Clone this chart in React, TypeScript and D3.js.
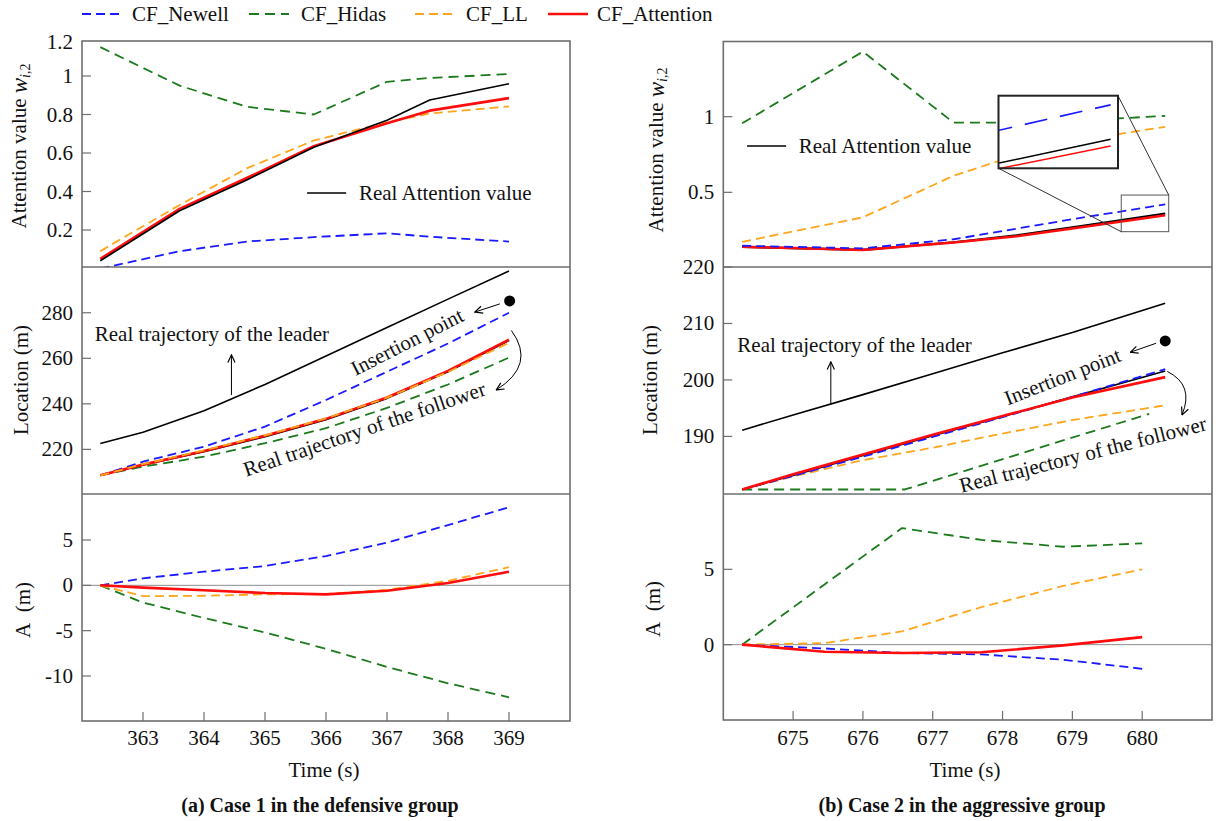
import * as d3 from "d3";

const FONT = "'Liberation Serif', 'Times New Roman', Times, serif";
const FS = 21;
const FRAME = "#6e6e6e";
const BLUE = "#1a1aff";
const GREEN = "#1b7a1b";
const ORANGE = "#ffa51c";
const RED = "#ff0d0d";

const seriesNames = ["CF_Newell", "CF_Hidas", "CF_LL", "CF_Attention"];

// ---------- (a) Case 1 in the defensive group ----------
const c1TicksX = [363, 364, 365, 366, 367, 368, 369];

const c1AttnTime = [362.3, 363.6, 364.7, 365.8, 367.0, 367.7, 369.0];
const c1AttnReal = [0.04, 0.3, 0.46, 0.63, 0.77, 0.875, 0.96];
const c1AttnAttention = [0.05, 0.31, 0.47, 0.635, 0.755, 0.82, 0.885];
const c1AttnLL = [0.09, 0.33, 0.52, 0.665, 0.76, 0.805, 0.842];
const c1AttnNewell = [0.0, 0.09, 0.14, 0.163, 0.183, 0.165, 0.14];
const c1AttnHidas = [1.15, 0.95, 0.84, 0.8, 0.97, 0.99, 1.01];

const c1Time = [362.3, 363, 364, 365, 366, 367, 368, 369];
const c1Leader = [222.6, 227.5, 237.0, 248.5, 261.0, 273.5, 286.0, 298.3];
const c1Follower = [208.6, 213.1, 219.0, 225.6, 233.0, 242.4, 254.1, 267.8];
const c1LocAttention = [208.6, 213.3, 219.3, 226.0, 233.4, 242.8, 254.5, 268.2];
const c1LocLL = [208.6, 213.5, 219.6, 226.2, 233.6, 242.7, 254.0, 266.8];
const c1LocNewell = [208.6, 214.6, 221.2, 230.0, 241.7, 254.1, 266.5, 280.0];
const c1LocHidas = [208.6, 212.4, 216.8, 222.7, 229.3, 238.2, 248.5, 260.3];

const c1ANewell = [0, 0.77, 1.5, 2.13, 3.23, 4.7, 6.65, 8.6];
const c1AHidas = [0, -1.9, -3.6, -5.2, -7.0, -9.0, -10.8, -12.35];
const c1ALL = [0, -1.2, -1.15, -1.0, -0.95, -0.5, 0.5, 2.0];
const c1AAttention = [0, -0.25, -0.55, -0.85, -1.0, -0.6, 0.25, 1.5];

// ---------- (b) Case 2 in the aggressive group ----------
const c2TicksX = [675, 676, 677, 678, 679, 680];

const c2AttnTime = [674.27, 676.0, 677.3, 678.2, 679.1, 680.33];
const c2AttnReal = [0.14, 0.12, 0.17, 0.215, 0.275, 0.36];
const c2AttnAttention = [0.14, 0.12, 0.168, 0.21, 0.268, 0.348];
const c2AttnNewell = [0.147, 0.13, 0.19, 0.26, 0.33, 0.42];
const c2AttnLL = [0.173, 0.335, 0.61, 0.745, 0.845, 0.933];
const c2AttnHidas = [0.956, 1.43, 0.96, 0.96, 0.975, 1.005];

const c2Time = [674.27, 675, 676, 677, 678, 679, 680.33];
const c2Leader = [191.1, 193.8, 197.4, 201.1, 204.8, 208.4, 213.6];
const c2Follower = [180.6, 183.1, 186.6, 190.1, 193.5, 197.0, 201.6];
const c2LocAttention = [180.6, 183.3, 186.8, 190.3, 193.6, 196.9, 200.5];
const c2LocNewell = [180.6, 183.0, 186.4, 189.9, 193.4, 197.0, 201.9];
const c2LocLL = [180.6, 182.9, 185.8, 188.0, 190.5, 192.9, 195.5];
const c2HidasTime = [674.27, 676.6, 680.1];
const c2LocHidas = [180.6, 180.6, 194.0];

const c2ATime = [674.27, 675.45, 676.56, 677.7, 678.87, 680.0];
const c2AHidas = [0, 4.0, 7.74, 6.95, 6.5, 6.72];
const c2ALL = [0, 0.1, 0.88, 2.5, 3.9, 5.0];
const c2AAttention = [0, -0.47, -0.55, -0.5, -0.05, 0.5];
const c2ANewell = [0, -0.25, -0.55, -0.65, -1.0, -1.6];

// zoomed window of the inset (time, attention value)
const insetSrcT = [679.7, 680.38];
const insetSrcV = [0.24, 0.482];
const insetViewT = [679.72, 680.37];
const insetViewV = [0.309, 0.436];

type Scale = d3.ScaleLinear<number, number>;
type Line = { t: number[]; v: number[]; color: string; width: number; dash?: string };

const sNewell = { color: BLUE, width: 1.8, dash: "9,5" };
const sHidas = { color: GREEN, width: 1.8, dash: "10,6" };
const sLL = { color: ORANGE, width: 1.8, dash: "9,5" };
const sAttn = { color: RED, width: 2.6 };
const sReal = { color: "#000", width: 1.6 };

const linePath = (x: Scale, y: Scale, t: number[], v: number[]) =>
  d3
    .line<number>()
    .x((_, i) => x(t[i]))
    .y((d) => y(d))(v) ?? "";

function Lines({ id, x, y, x0, x1, y0, y1, lines }: {
  id: string; x: Scale; y: Scale; x0: number; x1: number; y0: number; y1: number; lines: Line[];
}) {
  return (
    <g>
      <clipPath id={id}>
        <rect x={x0} y={y0} width={x1 - x0} height={y1 - y0} />
      </clipPath>
      <g clipPath={`url(#${id})`}>
        {lines.map((l, i) => (
          <path key={i} d={linePath(x, y, l.t, l.v)} fill="none" stroke={l.color}
            strokeWidth={l.width} strokeDasharray={l.dash} strokeLinejoin="round" />
        ))}
      </g>
    </g>
  );
}

function YTicks({ y, left, top, bottom, ticks }: { y: Scale; left: number; top: number; bottom: number; ticks: number[] }) {
  return (
    <g>
      {ticks.map((tk) => {
        const py = y(tk);
        const inside = py > top + 0.5 && py < bottom - 0.5;
        return (
          <g key={tk}>
            {inside && <line x1={left} x2={left + 9} y1={py} y2={py} stroke={FRAME} strokeWidth={1.2} />}
            <text x={left - 9} y={Math.max(py, top + 1)} textAnchor="end" dominantBaseline="central" fontSize={FS}>
              {String(tk)}
            </text>
          </g>
        );
      })}
    </g>
  );
}

function XTicks({ x, bottom, ticks }: { x: Scale; bottom: number; ticks: number[] }) {
  return (
    <g>
      {ticks.map((tk) => (
        <g key={tk}>
          <line x1={x(tk)} x2={x(tk)} y1={bottom} y2={bottom - 9} stroke={FRAME} strokeWidth={1.2} />
          <text x={x(tk)} y={738} textAnchor="middle" dominantBaseline="central" fontSize={FS}>{tk}</text>
        </g>
      ))}
    </g>
  );
}

function Frame({ left, right, top, mid1, mid2, bottom }: { left: number; right: number; top: number; mid1: number; mid2: number; bottom: number }) {
  return (
    <g fill="none" stroke={FRAME} strokeWidth={1.6}>
      <rect x={left} y={top} width={right - left} height={bottom - top} />
      <line x1={left} x2={right} y1={mid1} y2={mid1} />
      <line x1={left} x2={right} y1={mid2} y2={mid2} />
    </g>
  );
}

function AttnTitle({ cx, cy }: { cx: number; cy: number }) {
  return (
    <text transform={`translate(${cx},${cy}) rotate(-90)`} textAnchor="middle" dominantBaseline="central" fontSize={FS}>
      Attention value{" "}
      <tspan fontStyle="italic" fontSize={23}>w</tspan>
      <tspan dy={6} fontSize={14} fontStyle="italic">i</tspan>
      <tspan fontSize={14}>,2</tspan>
    </text>
  );
}

function VTitle({ cx, cy, label }: { cx: number; cy: number; label: string }) {
  return (
    <text transform={`translate(${cx},${cy}) rotate(-90)`} textAnchor="middle" dominantBaseline="central"
      fontSize={FS} style={{ whiteSpace: "pre" }}>
      {label}
    </text>
  );
}

function RotText({ cx, cy, angle, label }: { cx: number; cy: number; angle: number; label: string }) {
  return (
    <text transform={`translate(${cx},${cy}) rotate(${-angle})`} textAnchor="middle" dominantBaseline="central" fontSize={FS}>
      {label}
    </text>
  );
}

export default function App() {
  // column (a)
  const L = { left: 82, right: 570, top: 41, mid1: 267, mid2: 494, bottom: 721 };
  const xa = d3.scaleLinear().domain([362, 370]).range([L.left, L.right]);
  const ya1 = d3.scaleLinear().domain([0, 1.2]).range([268.5, 37.5]);
  const ya2 = d3.scaleLinear().domain([200.4, 300.1]).range([L.mid2, L.mid1]);
  const ya3 = d3.scaleLinear().domain([-14.96, 10.07]).range([L.bottom, L.mid2]);

  // column (b)
  const R = { left: 723.3, right: 1212, top: 41.5, mid1: 267, mid2: 494, bottom: 720 };
  const xb = d3.scaleLinear().domain([674, 681]).range([R.left, R.right]);
  const yb1 = d3.scaleLinear().domain([0, 1.5]).range([268, 41]);
  const yb2 = d3.scaleLinear().domain([179.8, 220]).range([R.mid2, R.mid1]);
  const yb3 = d3.scaleLinear().domain([-5, 10]).range([R.bottom, R.mid2]);

  // inset geometry
  const inset = { x0: 998.5, x1: 1118, y0: 95.7, y1: 168.3 };
  const xi = d3.scaleLinear().domain(insetViewT).range([inset.x0, inset.x1]);
  const yi = d3.scaleLinear().domain(insetViewV).range([inset.y1, inset.y0]);
  const src = { x0: xb(insetSrcT[0]), x1: xb(insetSrcT[1]), y0: yb1(insetSrcV[1]), y1: yb1(insetSrcV[0]) };

  const legendItems = [
    { ...sNewell, x: 82, tx: 132 },
    { ...sHidas, x: 249, tx: 301 },
    { ...sLL, x: 415, tx: 466 },
    { ...sAttn, x: 548, tx: 597 },
  ];

  return (
    <svg width={1220} height={821} style={{ position: "absolute", left: 0, top: 0, background: "#fff" }}
      fontFamily={FONT} fill="#111">
      <defs>
        <marker id="ah" viewBox="0 0 10 10" refX="9.5" refY="5" markerWidth={9} markerHeight={9}
          markerUnits="userSpaceOnUse" orient="auto">
          <path d="M1,1 L9.5,5 L1,9" fill="none" stroke="#000" strokeWidth={1.3} />
        </marker>
      </defs>

      {/* legend */}
      {legendItems.map((it, i) => (
        <g key={i}>
          <line x1={it.x} x2={it.x + 40} y1={14} y2={14} stroke={it.color} strokeWidth={it.width}
            strokeDasharray={it.dash} />
          <text x={it.tx} y={14} dominantBaseline="central" fontSize={FS}>{seriesNames[i]}</text>
        </g>
      ))}

      {/* ===== (a) ===== */}
      <Lines id="a1" x={xa} y={ya1} x0={L.left} x1={L.right} y0={L.top} y1={L.mid1} lines={[
        { t: c1AttnTime, v: c1AttnHidas, ...sHidas },
        { t: c1AttnTime, v: c1AttnNewell, ...sNewell },
        { t: c1AttnTime, v: c1AttnLL, ...sLL },
        { t: c1AttnTime, v: c1AttnAttention, ...sAttn },
        { t: c1AttnTime, v: c1AttnReal, ...sReal },
      ]} />
      <line x1={xa(365.69)} x2={xa(366.33)} y1={ya1(0.392)} y2={ya1(0.392)} stroke="#000" strokeWidth={1.6} />
      <text x={xa(366.54)} y={ya1(0.392)} dominantBaseline="central" fontSize={FS}>Real Attention value</text>

      <Lines id="a2" x={xa} y={ya2} x0={L.left} x1={L.right} y0={L.mid1} y1={L.mid2} lines={[
        { t: c1Time, v: c1Leader, ...sReal },
        { t: c1Time, v: c1LocHidas, ...sHidas },
        { t: c1Time, v: c1LocNewell, ...sNewell },
        { t: c1Time, v: c1Follower, ...sReal },
        { t: c1Time, v: c1LocAttention, ...sAttn },
        { t: c1Time, v: c1LocLL, ...sLL },
      ]} />
      <text x={xa(364.13)} y={ya2(270.7)} textAnchor="middle" dominantBaseline="central" fontSize={FS}>
        Real trajectory of the leader
      </text>
      <line x1={xa(364.45)} x2={xa(364.45)} y1={ya2(243.9)} y2={ya2(261.5)} stroke="#000" strokeWidth={1}
        markerEnd="url(#ah)" />
      <circle cx={xa(369.01)} cy={ya2(285.2)} r={5.5} fill="#000" />
      <line x1={xa(368.85)} y1={ya2(283.9)} x2={xa(368.44)} y2={ya2(280.3)} stroke="#000" strokeWidth={1}
        markerEnd="url(#ah)" />
      <RotText cx={xa(367.33)} cy={ya2(267.2)} angle={27} label="Insertion point" />
      <RotText cx={xa(366.63)} cy={ya2(228.9)} angle={18.8} label="Real trajectory of the follower" />
      <path d={`M${xa(369.04)},${ya2(272.2)} Q${xa(369.45)},${ya2(257.1)} ${xa(368.79)},${ya2(246.1)}`}
        fill="none" stroke="#000" strokeWidth={1} markerEnd="url(#ah)" />

      <line x1={L.left} x2={L.right} y1={ya3(0)} y2={ya3(0)} stroke="#8c8c8c" strokeWidth={1} />
      <Lines id="a3" x={xa} y={ya3} x0={L.left} x1={L.right} y0={L.mid2} y1={L.bottom} lines={[
        { t: c1Time, v: c1AHidas, ...sHidas },
        { t: c1Time, v: c1ANewell, ...sNewell },
        { t: c1Time, v: c1ALL, ...sLL },
        { t: c1Time, v: c1AAttention, ...sAttn },
      ]} />

      <Frame {...L} />
      <YTicks y={ya1} left={L.left} top={L.top} bottom={L.mid1} ticks={[0.2, 0.4, 0.6, 0.8, 1, 1.2]} />
      <YTicks y={ya2} left={L.left} top={L.mid1} bottom={L.mid2} ticks={[220, 240, 260, 280]} />
      <YTicks y={ya3} left={L.left} top={L.mid2} bottom={L.bottom} ticks={[-10, -5, 0, 5]} />
      <XTicks x={xa} bottom={L.bottom} ticks={c1TicksX} />
      <AttnTitle cx={19} cy={146} />
      <VTitle cx={20.5} cy={380} label="Location (m)" />
      <VTitle cx={23} cy={610} label={"A\u00a0 (m)"} />
      <text x={324} y={770} textAnchor="middle" dominantBaseline="central" fontSize={FS}>Time (s)</text>
      <text x={320} y={805} textAnchor="middle" dominantBaseline="central" fontSize={20} fontWeight="bold">
        (a) Case 1 in the defensive group
      </text>

      {/* ===== (b) ===== */}
      <Lines id="b1" x={xb} y={yb1} x0={R.left} x1={R.right} y0={R.top} y1={R.mid1} lines={[
        { t: c2AttnTime, v: c2AttnHidas, ...sHidas },
        { t: c2AttnTime, v: c2AttnLL, ...sLL },
        { t: c2AttnTime, v: c2AttnReal, ...sReal, width: 2.2 },
        { t: c2AttnTime, v: c2AttnAttention, ...sAttn },
        { t: c2AttnTime, v: c2AttnNewell, ...sNewell },
      ]} />
      <line x1={xb(674.34)} x2={xb(674.9)} y1={yb1(0.806)} y2={yb1(0.806)} stroke="#000" strokeWidth={1.6} />
      <text x={xb(675.08)} y={yb1(0.806)} dominantBaseline="central" fontSize={FS}>Real Attention value</text>

      {/* inset */}
      <rect x={src.x0} y={src.y0} width={src.x1 - src.x0} height={src.y1 - src.y0} fill="none" stroke="#555" strokeWidth={1} />
      <line x1={inset.x0} y1={inset.y1} x2={src.x0} y2={src.y1} stroke="#333" strokeWidth={1} />
      <line x1={inset.x1} y1={inset.y0} x2={src.x1} y2={src.y0} stroke="#333" strokeWidth={1} />
      <rect x={inset.x0} y={inset.y0} width={inset.x1 - inset.x0} height={inset.y1 - inset.y0} fill="#fff" stroke="none" />
      <Lines id="bi" x={xi} y={yi} x0={inset.x0} x1={inset.x1} y0={inset.y0} y1={inset.y1} lines={[
        { t: c2AttnTime, v: c2AttnNewell, color: BLUE, width: 1.6, dash: "23,13" },
        { t: c2AttnTime, v: c2AttnReal, color: "#000", width: 1.5 },
        { t: c2AttnTime, v: c2AttnAttention, color: RED, width: 1.5 },
      ]} />
      <rect x={inset.x0} y={inset.y0} width={inset.x1 - inset.x0} height={inset.y1 - inset.y0} fill="none" stroke="#222" strokeWidth={2} />

      <Lines id="b2" x={xb} y={yb2} x0={R.left} x1={R.right} y0={R.mid1} y1={R.mid2} lines={[
        { t: c2Time, v: c2Leader, ...sReal },
        { t: c2HidasTime, v: c2LocHidas, ...sHidas },
        { t: c2Time, v: c2LocLL, ...sLL },
        { t: c2Time, v: c2Follower, ...sReal },
        { t: c2Time, v: c2LocNewell, ...sNewell },
        { t: c2Time, v: c2LocAttention, ...sAttn },
      ]} />
      <text x={xb(675.88)} y={yb2(206.2)} textAnchor="middle" dominantBaseline="central" fontSize={FS}>
        Real trajectory of the leader
      </text>
      <line x1={xb(675.54)} x2={xb(675.54)} y1={yb2(195.7)} y2={yb2(203.2)} stroke="#000" strokeWidth={1}
        markerEnd="url(#ah)" />
      <circle cx={xb(680.33)} cy={yb2(206.9)} r={5.5} fill="#000" />
      <line x1={xb(680.2)} y1={yb2(206.5)} x2={xb(679.83)} y2={yb2(204.9)} stroke="#000" strokeWidth={1}
        markerEnd="url(#ah)" />
      <RotText cx={xb(678.86)} cy={yb2(200.6)} angle={21.3} label="Insertion point" />
      <RotText cx={xb(679.15)} cy={yb2(186.8)} angle={14.3} label="Real trajectory of the follower" />
      <path d={`M${xb(680.36)},${yb2(201.5)} Q${xb(680.75)},${yb2(199.1)} ${xb(680.57)},${yb2(193.8)}`}
        fill="none" stroke="#000" strokeWidth={1} markerEnd="url(#ah)" />

      <line x1={R.left} x2={R.right} y1={yb3(0)} y2={yb3(0)} stroke="#8c8c8c" strokeWidth={1} />
      <Lines id="b3" x={xb} y={yb3} x0={R.left} x1={R.right} y0={R.mid2} y1={R.bottom} lines={[
        { t: c2ATime, v: c2AHidas, ...sHidas },
        { t: c2ATime, v: c2ALL, ...sLL },
        { t: c2ATime, v: c2ANewell, ...sNewell },
        { t: c2ATime, v: c2AAttention, ...sAttn },
      ]} />

      <Frame {...R} />
      <YTicks y={yb1} left={R.left} top={R.top} bottom={R.mid1} ticks={[0.5, 1]} />
      <YTicks y={yb2} left={R.left} top={R.mid1 - 3} bottom={R.mid2} ticks={[190, 200, 210, 220]} />
      <YTicks y={yb3} left={R.left} top={R.mid2} bottom={R.bottom} ticks={[0, 5]} />
      <XTicks x={xb} bottom={R.bottom} ticks={c2TicksX} />
      <AttnTitle cx={655.5} cy={150} />
      <VTitle cx={650} cy={380} label="Location (m)" />
      <VTitle cx={653} cy={609} label={"A\u00a0 (m)"} />
      <text x={965} y={770} textAnchor="middle" dominantBaseline="central" fontSize={FS}>Time (s)</text>
      <text x={962} y={805} textAnchor="middle" dominantBaseline="central" fontSize={20} fontWeight="bold">
        (b) Case 2 in the aggressive group
      </text>
    </svg>
  );
}
